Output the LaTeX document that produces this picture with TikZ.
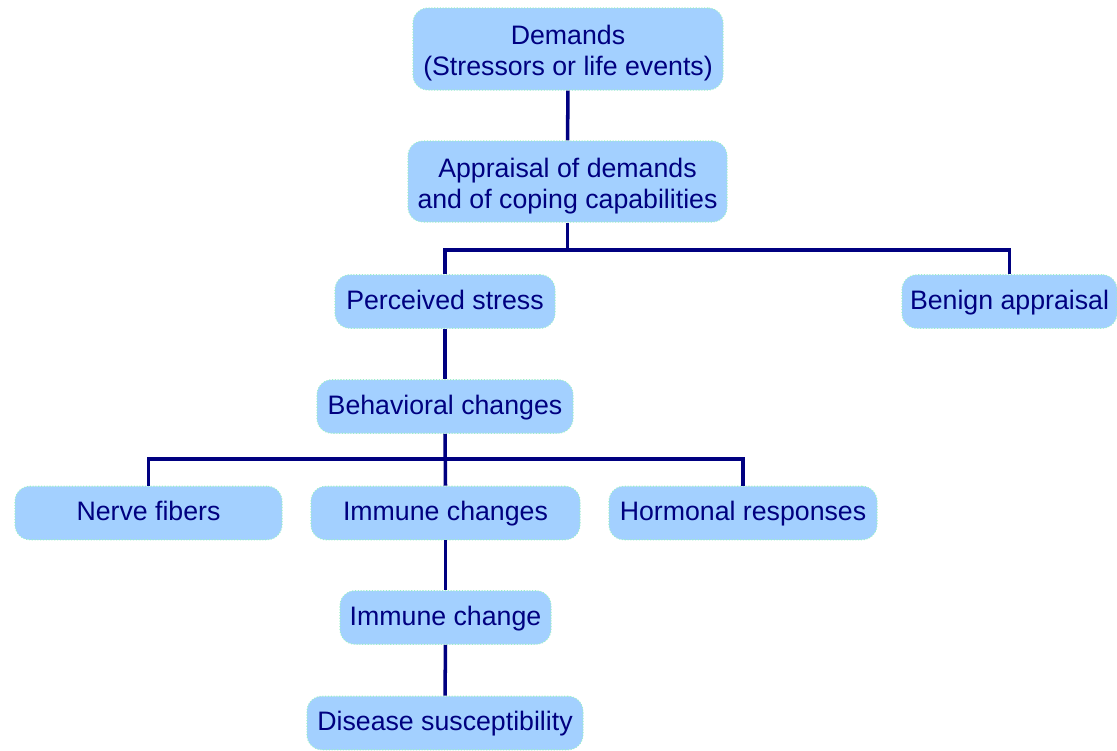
\documentclass[tikz,border=0pt]{standalone}
\usepackage{fontspec}
\setmainfont{Liberation Sans}
\usepackage{xcolor}
\usetikzlibrary{positioning, calc}

\definecolor{boxfill}{HTML}{A3D0FF}
\definecolor{boxedge}{HTML}{9CF0C8}
\definecolor{navy}{HTML}{000080}

\newcommand{\toplift}{\rule{0pt}{1.05em}}

\begin{document}
\begin{tikzpicture}[
        stage/.style={rectangle, draw=boxedge, densely dotted, line width=0.6pt, fill=boxfill, rounded corners=0.3cm, minimum height=1.07cm, align=center, text=navy, font=\fontsize{15.2}{17.5}\selectfont, inner sep=0pt},
        oneline/.style={stage, text height=1.1em, text depth=0.21em},
        link/.style={draw=navy, line width=2pt}
    ]
        \useasboundingbox (0,0) rectangle (22.34,-15);

        % Nodes
        \node[stage, minimum width=6.2cm, minimum height=1.64cm] (demands) at (11.36,-0.98) {\toplift Demands\\(Stressors or life events)};
        \node[stage, minimum width=6.38cm, minimum height=1.62cm] (appraisal) at (11.35,-3.63) {\toplift Appraisal of demands\\and of coping capabilities};
        \node[oneline, minimum width=4.4cm] (perceived) at (8.9,-6.03) {Perceived stress};
        \node[oneline, minimum width=4.3cm] (benign) at (20.19,-6.03) {Benign appraisal};
        \node[oneline, minimum width=5.12cm] (behavior) at (8.9,-8.13) {Behavioral changes};
        \node[oneline, minimum width=5.34cm] (nerve) at (2.97,-10.26) {Nerve fibers};
        \node[oneline, minimum width=5.38cm] (immunes) at (8.91,-10.26) {Immune changes};
        \node[oneline, minimum width=5.36cm] (hormone) at (14.86,-10.26) {Hormonal responses};
        \node[oneline, minimum width=4.22cm] (immune) at (8.91,-12.35) {Immune change};
        \node[oneline, minimum width=5.52cm] (disease) at (8.9,-14.46) {Disease susceptibility};

        % Forks
        \coordinate (fork1) at (0,-5.0);
        \coordinate (fork2) at (0,-9.18);

        % Connectors
        \draw[link] (demands) -- (appraisal);
        \draw[link] (appraisal.south) -- (appraisal.south |- fork1);
        \draw[link] (perceived.north) |- (benign.north |- fork1) -- (benign.north);
        \draw[link] (perceived) -- (behavior);
        \draw[link] (behavior.south) -- (immunes.north);
        \draw[link] (nerve.north) |- (hormone.north |- fork2) -- (hormone.north);
        \draw[link] (immunes) -- (immune);
        \draw[link] (immune) -- (disease);
    \end{tikzpicture}
\end{document}
